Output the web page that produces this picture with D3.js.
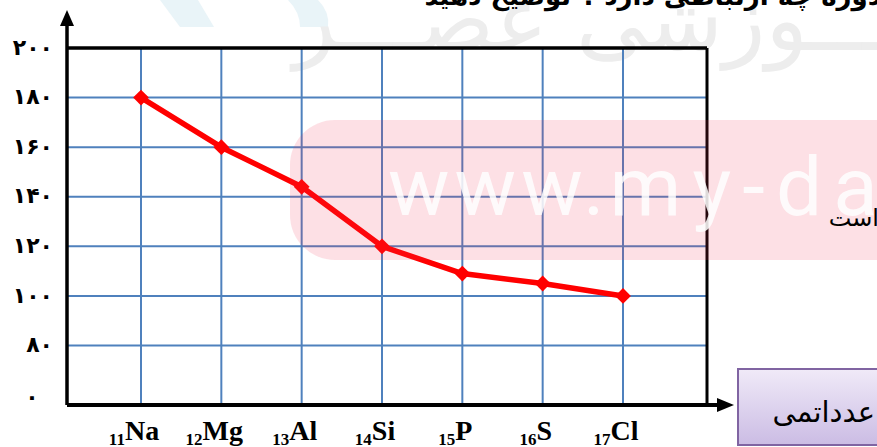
<!DOCTYPE html>
<html>
<head>
<meta charset="utf-8">
<script src="https://cdn.jsdelivr.net/npm/d3@7"></script>
<style>
  html, body { margin: 0; padding: 0; background: #ffffff; overflow: hidden; }
  svg { display: block; }
</style>
</head>
<body>
<script>
// ---- data ----
const elements = ["Na", "Mg", "Al", "Si", "P", "S", "Cl"];
const atomicNumbers = ["11", "12", "13", "14", "15", "16", "17"];
const radii = [180, 160, 144, 120, 109, 105, 100];
const yTickValues = [56, 80, 100, 120, 140, 160, 180, 200];
const yTickLabels = ["۰", "۸۰", "۱۰۰", "۱۲۰", "۱۴۰", "۱۶۰", "۱۸۰", "۲۰۰"];
const xAxisTitle = "عدداتمی";

// ---- layout ----
const W = 877, H = 447;
const pLeft = 67, pRight = 707, pTop = 48, pBottom = 405;

const svg = d3.select("body").append("svg").attr("width", W).attr("height", H);

const x = d3.scalePoint().domain(elements).range([141, 623]);
const y = d3.scaleLinear().domain([56, 200]).range([pBottom, pTop]);

// ---- background decorations (watermark) ----
const deco = svg.append("g");
deco.append("path")
  .attr("d", "M160,0 L198,0 L214,27 L180,27 Z")
  .attr("fill", "#e9f4f8");
deco.append("path")
  .attr("d", "M288,0 L318,0 Q330,12 328,27 L300,27 Q300,12 288,0 Z")
  .attr("fill", "#e9f4f8");
deco.append("text")
  .attr("x", 960).attr("y", 50)
  .attr("text-anchor", "end")
  .attr("font-family", "DejaVu Sans")
  .attr("font-size", 88)
  .attr("fill", "#ededed")
  .text("آمـــوزشی عصـــر");

// title fragment at top (cut off)
svg.append("text")
  .attr("x", 900).attr("y", 5)
  .attr("text-anchor", "end")
  .attr("font-family", "DejaVu Sans")
  .attr("font-weight", "bold")
  .attr("font-size", 26)
  .attr("fill", "#000")
  .text("دوره چه ارتباطی دارد ؟ توضیح دهید .");

// ---- grid ----
const gridColor = "#4f81bd";
const grid = svg.append("g");
grid.selectAll("line.h")
  .data(yTickValues.filter(v => v > 56 && v < 200))
  .join("line")
  .attr("x1", pLeft).attr("x2", pRight)
  .attr("y1", d => y(d)).attr("y2", d => y(d))
  .attr("stroke", gridColor).attr("stroke-width", 2);
grid.selectAll("line.v")
  .data(elements)
  .join("line")
  .attr("x1", d => x(d)).attr("x2", d => x(d))
  .attr("y1", pTop).attr("y2", pBottom)
  .attr("stroke", gridColor).attr("stroke-width", 2);

// ---- frame / axes ----
const axes = svg.append("g");
axes.append("line").attr("x1", pLeft).attr("x2", pRight).attr("y1", y(200)).attr("y2", y(200))
  .attr("stroke", "#000").attr("stroke-width", 3.5);
axes.append("line").attr("x1", pRight).attr("x2", pRight).attr("y1", y(200)).attr("y2", pBottom)
  .attr("stroke", "#000").attr("stroke-width", 3);
axes.append("line").attr("x1", pLeft).attr("x2", pLeft).attr("y1", 22).attr("y2", pBottom)
  .attr("stroke", "#000").attr("stroke-width", 3.5);
axes.append("line").attr("x1", pLeft).attr("x2", 722).attr("y1", pBottom).attr("y2", pBottom)
  .attr("stroke", "#000").attr("stroke-width", 4);
axes.append("path").attr("d", `M${pLeft},10 L${pLeft - 7},26 L${pLeft + 7},26 Z`).attr("fill", "#000");
axes.append("path").attr("d", `M734,${pBottom} L717,${pBottom - 7} L717,${pBottom + 7} Z`).attr("fill", "#000");

// y tick labels
svg.append("g").selectAll("text")
  .data(yTickValues)
  .join("text")
  .attr("x", (d, i) => i === 0 ? 32 : 53)
  .attr("y", d => y(d))
  .attr("dy", (d, i) => i === 0 ? "-0.05em" : "0.3em")
  .attr("text-anchor", (d, i) => i === 0 ? "middle" : "end")
  .attr("font-family", "DejaVu Sans")
  .attr("font-weight", "bold")
  .attr("font-size", 22)
  .attr("fill", "#000")
  .text((d, i) => yTickLabels[i]);

// x labels with subscript atomic numbers
const xl = svg.append("g").selectAll("text")
  .data(elements)
  .join("text")
  .attr("x", d => x(d) - 7)
  .attr("y", 440)
  .attr("text-anchor", "middle")
  .attr("font-family", "Liberation Serif")
  .attr("font-weight", "bold")
  .attr("fill", "#000");
xl.append("tspan").attr("font-size", 17).attr("dy", 5).text((d, i) => atomicNumbers[i]);
xl.append("tspan").attr("font-size", 28).attr("dy", -5).text(d => d);

// ---- data line ----
const pts = elements.map((e, i) => [x(e), y(radii[i])]);
svg.append("path")
  .attr("d", d3.line()(pts))
  .attr("fill", "none")
  .attr("stroke", "#ff0000")
  .attr("stroke-width", 5.5)
  .attr("stroke-linejoin", "round");
svg.append("g").selectAll("path")
  .data(pts)
  .join("path")
  .attr("transform", d => `translate(${d[0]},${d[1]}) rotate(45)`)
  .attr("d", d3.symbol().type(d3.symbolSquare).size(125))
  .attr("fill", "#ff0000");

// ---- pink watermark overlay ----
const wm = svg.append("g");
wm.append("rect")
  .attr("x", 290).attr("y", 120).attr("width", 660).attr("height", 140).attr("rx", 45)
  .attr("fill", "rgb(240,50,80)").attr("opacity", 0.15);
const wt = wm.append("text")
  .attr("x", 388).attr("y", 215)
  .attr("font-family", "Roboto")
  .attr("font-size", 82)
  .attr("fill", "#ffffff").attr("opacity", 0.85);
wt.append("tspan").attr("letter-spacing", 5).text("www.");
wt.append("tspan").attr("letter-spacing", 11).text("my-dars.ir");

// side text
svg.append("text")
  .attr("x", 879).attr("y", 226)
  .attr("text-anchor", "end")
  .attr("font-family", "DejaVu Sans")
  .attr("font-size", 24)
  .attr("fill", "#000")
  .text("است");

// ---- x axis title box ----
const defs = svg.append("defs");
const grad = defs.append("linearGradient").attr("id", "pg").attr("x1", 0).attr("y1", 0).attr("x2", 0).attr("y2", 1);
grad.append("stop").attr("offset", "0%").attr("stop-color", "#f0eaf8");
grad.append("stop").attr("offset", "100%").attr("stop-color", "#cbbce4");
svg.append("rect")
  .attr("x", 738).attr("y", 369).attr("width", 170).attr("height", 76)
  .attr("fill", "url(#pg)").attr("stroke", "#8064a2").attr("stroke-width", 2);
svg.append("text")
  .attr("x", 875).attr("y", 422)
  .attr("text-anchor", "end")
  .attr("font-family", "DejaVu Sans")
  .attr("font-size", 29)
  .attr("fill", "#000")
  .text(xAxisTitle);
</script>
</body>
</html>
